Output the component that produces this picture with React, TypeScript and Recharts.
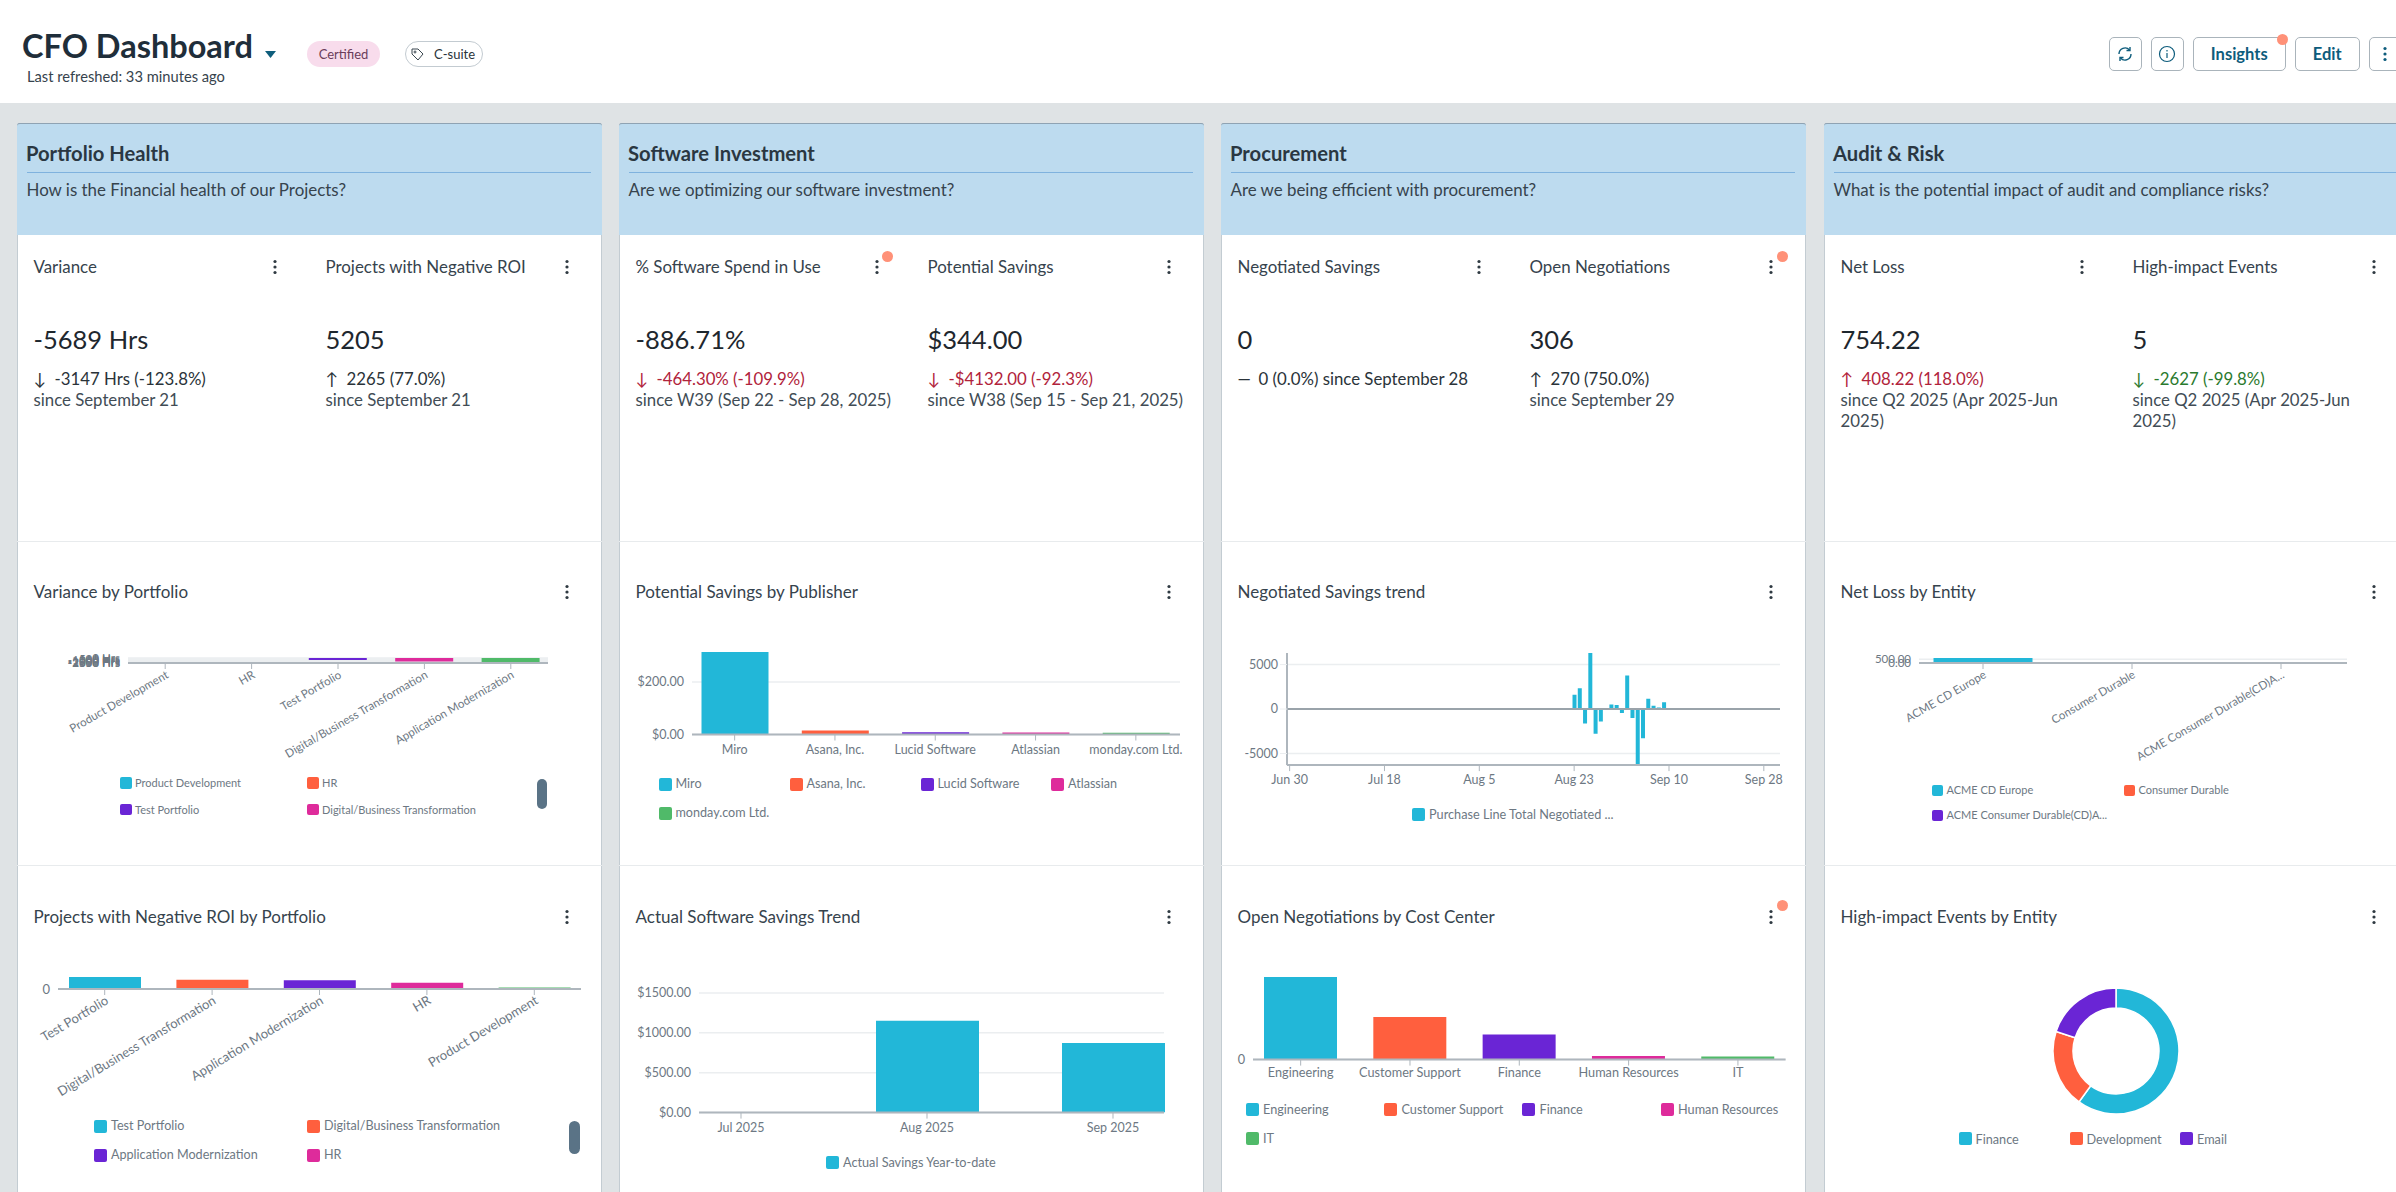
import { BarChart, Bar, Cell, XAxis, YAxis, CartesianGrid, ReferenceLine, PieChart, Pie } from 'recharts';
import type { CSSProperties, ReactNode } from 'react';

const FONT = 'Lato, "Noto Sans", sans-serif';
const PALETTE = ['#22b7d8', '#ff5f3e', '#6a25d5', '#de2b9b', '#50ba69'];
const TICK = '#6d7883';
const AXIS = '#aeb6bd';
const GRID = '#ebeef0';

const sectionTitles = ['Portfolio Health', 'Software Investment', 'Procurement', 'Audit & Risk'];
const sectionQuestions = [
  'How is the Financial health of our Projects?',
  'Are we optimizing our software investment?',
  'Are we being efficient with procurement?',
  'What is the potential impact of audit and compliance risks?',
];
const cardLefts = [17, 619, 1221, 1824];

const kpiNames = [
  ['Variance', 'Projects with Negative ROI'],
  ['% Software Spend in Use', 'Potential Savings'],
  ['Negotiated Savings', 'Open Negotiations'],
  ['Net Loss', 'High-impact Events'],
];
const kpiValues = [
  ['-5689 Hrs', '5205'],
  ['-886.71%', '$344.00'],
  ['0', '306'],
  ['754.22', '5'],
];
const kpiArrows = [
  ['↓', '↑'],
  ['↓', '↓'],
  ['—', '↑'],
  ['↑', '↓'],
];
const kpiDeltas = [
  ['-3147 Hrs (-123.8%)', '2265 (77.0%)'],
  ['-464.30% (-109.9%)', '-$4132.00 (-92.3%)'],
  ['0 (0.0%) since September 28', '270 (750.0%)'],
  ['408.22 (118.0%)', '-2627 (-99.8%)'],
];
const kpiDeltaColors = [
  ['#2a3339', '#2a3339'],
  ['#b1233b', '#b1233b'],
  ['#2a3339', '#2a3339'],
  ['#b1233b', '#2b7a2e'],
];
const kpiSince = [
  [['since September 21'], ['since September 21']],
  [['since W39 (Sep 22 - Sep 28, 2025)'], ['since W38 (Sep 15 - Sep 21, 2025)']],
  [[], ['since September 29']],
  [['since Q2 2025 (Apr 2025-Jun', '2025)'], ['since Q2 2025 (Apr 2025-Jun', '2025)']],
];

const chartTitlesTop = ['Variance by Portfolio', 'Potential Savings by Publisher', 'Negotiated Savings trend', 'Net Loss by Entity'];
const chartTitlesBottom = ['Projects with Negative ROI by Portfolio', 'Actual Software Savings Trend', 'Open Negotiations by Cost Center', 'High-impact Events by Entity'];

const varianceNames = ['Product Development', 'HR', 'Test Portfolio', 'Digital/Business Transformation', 'Application Modernization'];
const varianceValues = [-41, -60, -1030, -1900, -2658];
const varianceTicks = [-2658, -2500, -2000, -1500, -1000, -500, 0];

const roiNames = ['Test Portfolio', 'Digital/Business Transformation', 'Application Modernization', 'HR', 'Product Development'];
const roiValues = [1670, 1290, 1230, 880, 220];

const publisherNames = ['Miro', 'Asana, Inc.', 'Lucid Software', 'Atlassian', 'monday.com Ltd.'];
const publisherValues = [314, 15, 9, 8, 7];

const savingsMonths = ['Jul 2025', 'Aug 2025', 'Sep 2025'];
const savingsValues = [0, 1153, 873];

const trendDays = [
  'Jun 30', 'Jul 1', 'Jul 2', 'Jul 3', 'Jul 4', 'Jul 5', 'Jul 6', 'Jul 7', 'Jul 8', 'Jul 9', 'Jul 10', 'Jul 11', 'Jul 12', 'Jul 13', 'Jul 14', 'Jul 15', 'Jul 16', 'Jul 17',
  'Jul 18', 'Jul 19', 'Jul 20', 'Jul 21', 'Jul 22', 'Jul 23', 'Jul 24', 'Jul 25', 'Jul 26', 'Jul 27', 'Jul 28', 'Jul 29', 'Jul 30', 'Jul 31', 'Aug 1', 'Aug 2', 'Aug 3', 'Aug 4',
  'Aug 5', 'Aug 6', 'Aug 7', 'Aug 8', 'Aug 9', 'Aug 10', 'Aug 11', 'Aug 12', 'Aug 13', 'Aug 14', 'Aug 15', 'Aug 16', 'Aug 17', 'Aug 18', 'Aug 19', 'Aug 20', 'Aug 21', 'Aug 22',
  'Aug 23', 'Aug 24', 'Aug 25', 'Aug 26', 'Aug 27', 'Aug 28', 'Aug 29', 'Aug 30', 'Aug 31', 'Sep 1', 'Sep 2', 'Sep 3', 'Sep 4', 'Sep 5', 'Sep 6', 'Sep 7', 'Sep 8', 'Sep 9',
  'Sep 10', 'Sep 11', 'Sep 12', 'Sep 13', 'Sep 14', 'Sep 15', 'Sep 16', 'Sep 17', 'Sep 18', 'Sep 19', 'Sep 20', 'Sep 21', 'Sep 22', 'Sep 23', 'Sep 24', 'Sep 25', 'Sep 26', 'Sep 27',
  'Sep 28', 'Sep 29', 'Sep 30',
];
const trendValues = [
  0, 0, 0, 0, 0, 0, 0, 0, 0, 0, 0, 0, 0, 0, 0, 0, 0, 0,
  0, 0, 0, 0, 0, 0, 0, 0, 0, 0, 0, 0, 0, 0, 0, 0, 0, 0,
  0, 0, 0, 0, 0, 0, 0, 0, 0, 0, 0, 0, 0, 0, 0, 0, 0, 0,
  1620, 2340, -1620, 6300, -2790, -1400, 100, 500, 450, -450, 3780, -1000, -6300, -3280, 1170, 360, 180, 770,
  0, 0, 0, 0, 0, 0, 0, 0, 0, 0, 0, 0, 0, 0, 0, 0, 0, 0,
  0, 0, 0,
];

const costCenterNames = ['Engineering', 'Customer Support', 'Finance', 'Human Resources', 'IT'];
const costCenterValues = [161, 83, 49, 7, 6];

const entityNames = ['ACME CD Europe', 'Consumer Durable', 'ACME Consumer Durable(CD)A...'];
const entityValues = [650, 104, 0.22];

const eventNames = ['Finance', 'Development', 'Email'];
const eventValues = [3, 1, 1];

function Txt({ x, y, size, color = '#2a3339', weight = 400, children, style }: { x: number; y: number; size: number; color?: string; weight?: number; children: ReactNode; style?: CSSProperties }) {
  return (
    <div style={{ position: 'absolute', left: x, top: y - 15, height: 30, lineHeight: '30px', fontSize: size, color, fontWeight: weight, whiteSpace: 'pre', ...style }}>
      {children}
    </div>
  );
}

function Box({ x, y, w, h, style }: { x: number; y: number; w: number; h: number; style?: CSSProperties }) {
  return <div style={{ position: 'absolute', left: x, top: y, width: w, height: h, boxSizing: 'border-box', ...style }} />;
}

function Kebab({ x, y, color = '#2f3a42' }: { x: number; y: number; color?: string }) {
  return (
    <svg style={{ position: 'absolute', left: x - 3, top: y - 8 }} width={6} height={16}>
      <circle cx={3} cy={2.5} r={1.6} fill={color} />
      <circle cx={3} cy={8} r={1.6} fill={color} />
      <circle cx={3} cy={13.5} r={1.6} fill={color} />
    </svg>
  );
}

function Dot({ x, y }: { x: number; y: number }) {
  return <Box x={x - 5.5} y={y - 5.5} w={11} h={11} style={{ background: '#ff9178', borderRadius: '50%' }} />;
}

function SwatchLegend({ names, xs, ys, gap, size, fontSize }: { names: string[]; xs: number[]; ys: number[]; gap: number; size: number; fontSize: number }) {
  return (
    <>
      {names.slice(0, xs.length * ys.length).map((name, i) => {
        const x = xs[i % xs.length];
        const y = ys[Math.floor(i / xs.length)];
        return (
          <div key={name}>
            <Box x={x} y={y - size / 2} w={size} h={size} style={{ background: PALETTE[i], borderRadius: 2 }} />
            <Txt x={x + gap} y={y} size={fontSize} color={TICK}>{name}</Txt>
          </div>
        );
      })}
    </>
  );
}

function ScrollPill({ x, y, w, h }: { x: number; y: number; w: number; h: number }) {
  return <Box x={x} y={y} w={w} h={h} style={{ background: '#5a7386', borderRadius: w / 2 }} />;
}

interface PlotProps {
  names: string[];
  values: number[];
  left: number;
  right: number;
  top: number;
  bottom: number;
  barSize: number;
  domain: [number, number];
  ticks: number[];
  fontSize: number;
  angle?: number;
  colors?: string[];
  interval?: number;
  tickFormat?: (v: number) => string;
  axisPadding?: { left: number; right: number };
  xTickDy?: number;
  yTickSize?: number;
  zeroLine?: boolean;
  yLine?: boolean;
}

function Plot({ names, values, left, right, top, bottom, barSize, domain, ticks, fontSize, angle = 0, colors = PALETTE, interval = 0, tickFormat, axisPadding, xTickDy = 0, yTickSize = 0, zeroLine, yLine }: PlotProps) {
  const data = names.map((name, i) => ({ name, value: values[i] }));
  const boxLeft = left - 130;
  const boxTop = top - 12;
  const boxRight = right + 30;
  const boxBottom = bottom + 120;
  return (
    <div style={{ position: 'absolute', left: boxLeft, top: boxTop }}>
      <BarChart
        width={boxRight - boxLeft}
        height={boxBottom - boxTop}
        data={data}
        margin={{ top: top - boxTop, right: boxRight - right, left: 0, bottom: 0 }}
        style={{ fontFamily: FONT }}
      >
        <CartesianGrid vertical={false} stroke={GRID} strokeWidth={1.5} syncWithTicks />
        <XAxis
          dataKey="name"
          height={boxBottom - bottom}
          interval={interval}
          angle={angle}
          textAnchor={angle ? 'end' : 'middle'}
          padding={axisPadding}
          dy={xTickDy}
          tick={{ fill: TICK, fontSize }}
          tickLine={{ stroke: AXIS }}
          tickSize={6}
          axisLine={{ stroke: AXIS, strokeWidth: 2 }}
        />
        <YAxis
          width={left - boxLeft}
          domain={domain}
          ticks={ticks}
          interval={0}
          allowDataOverflow
          tickFormatter={tickFormat}
          tick={{ fill: TICK, fontSize }}
          tickLine={yTickSize ? { stroke: GRID } : false}
          tickSize={yTickSize || 6}
          axisLine={yLine ? { stroke: AXIS, strokeWidth: 2 } : false}
        />
        {zeroLine && <ReferenceLine y={0} stroke="#9aa3aa" strokeWidth={2} />}
        <Bar dataKey="value" barSize={barSize} isAnimationActive={false}>
          {data.map((d, i) => (
            <Cell key={d.name} fill={colors[i % colors.length]} />
          ))}
        </Bar>
      </BarChart>
    </div>
  );
}

function Charts() {
  const money = (v: number) => `$${v.toFixed(2)}`;
  return (
    <>
      <Plot names={varianceNames} values={varianceValues} left={128} right={548} top={658} bottom={663} barSize={58} domain={[-2658, 0]} ticks={varianceTicks} fontSize={11.6} angle={-30} xTickDy={-1} tickFormat={(v) => `${v} Hrs`} axisPadding={{ left: -6, right: -6 }} />
      <SwatchLegend names={varianceNames} xs={[120, 307]} ys={[783, 809.5]} gap={15} size={11.5} fontSize={11} />
      <ScrollPill x={537} y={779} w={10} h={30} />

      <Plot names={roiNames} values={roiValues} left={58} right={581} top={977} bottom={989} barSize={72} domain={[0, 1670]} ticks={[0]} fontSize={13} angle={-31} xTickDy={-2} axisPadding={{ left: -7, right: -7 }} />
      <SwatchLegend names={roiNames} xs={[94, 307]} ys={[1126, 1155]} gap={17} size={13} fontSize={12.6} />
      <ScrollPill x={568.5} y={1121} w={11.5} h={33} />

      <Plot names={publisherNames} values={publisherValues} left={691.5} right={1179.5} top={652} bottom={734.5} barSize={67} domain={[0, 314]} ticks={[0, 200]} tickFormat={money} fontSize={12.5} axisPadding={{ left: -7.5, right: -6 }} xTickDy={2.5} />
      <SwatchLegend names={publisherNames} xs={[658.5, 789.5, 920.5, 1051]} ys={[784, 813]} gap={17} size={13} fontSize={12.6} />

      <Plot names={savingsMonths} values={savingsValues} left={699} right={1164} top={993} bottom={1112.6} barSize={103} domain={[0, 1500]} ticks={[0, 500, 1000, 1500]} tickFormat={money} fontSize={12.5} colors={[PALETTE[0]]} axisPadding={{ left: -51, right: -42 }} xTickDy={2.5} />
      <SwatchLegend names={['Actual Savings Year-to-date']} xs={[826]} ys={[1162]} gap={17} size={13} fontSize={12.7} />

      <Plot names={trendDays} values={trendValues} left={1287} right={1780} top={652.7} bottom={764.8} barSize={4} domain={[-6300, 6300]} ticks={[-5000, 0, 5000]} colors={[PALETTE[0]]} interval={17} fontSize={12.5} axisPadding={{ left: 0, right: 3 }} xTickDy={2.5} yTickSize={7} zeroLine yLine />
      <SwatchLegend names={['Purchase Line Total Negotiated ...']} xs={[1412]} ys={[814]} gap={17} size={13} fontSize={12.7} />

      <Plot names={costCenterNames} values={costCenterValues} left={1253} right={1785.6} top={976.8} bottom={1059.4} barSize={73} domain={[0, 161]} ticks={[0]} fontSize={12.7} axisPadding={{ left: -7, right: -7 }} />
      <SwatchLegend names={costCenterNames} xs={[1245.5, 1384, 1522, 1660.5]} ys={[1109, 1138]} gap={17.5} size={13} fontSize={12.7} />

      <Plot names={entityNames} values={entityValues} left={1919} right={2347} top={658} bottom={663} barSize={99} domain={[0, 650]} ticks={[0, 500]} tickFormat={(v) => v.toFixed(2)} fontSize={11.5} angle={-30} xTickDy={-1} axisPadding={{ left: -10.5, right: -8.5 }} />
      <SwatchLegend names={entityNames} xs={[1931.5, 2123.5]} ys={[790, 815]} gap={15} size={11} fontSize={11} />

      <div style={{ position: 'absolute', left: 2015.7, top: 951 }}>
        <PieChart width={200} height={200} margin={{ top: 0, right: 0, bottom: 0, left: 0 }}>
          <Pie data={eventNames.map((name, i) => ({ name, value: eventValues[i] }))} dataKey="value" cx={100} cy={100} innerRadius={43} outerRadius={63} startAngle={90} endAngle={-270} stroke="#fff" strokeWidth={1.5} isAnimationActive={false}>
            {eventNames.map((name, i) => (
              <Cell key={name} fill={PALETTE[i]} />
            ))}
          </Pie>
        </PieChart>
      </div>
      <SwatchLegend names={eventNames} xs={[1958.5, 2069.5, 2180]} ys={[1138.5]} gap={17} size={13} fontSize={12.7} />
    </>
  );
}

function Card({ index }: { index: number }) {
  const x = cardLefts[index];
  return (
    <>
      <Box x={x} y={123} w={585} h={1080} style={{ background: '#fff', border: '1px solid #c3ccd2', borderTop: '1px solid #8fa3b3', borderRadius: '3px 3px 0 0' }} />
      <Box x={x} y={123} w={585} h={112} style={{ background: '#bddbef', borderTop: '1px solid #8fa3b3', borderRadius: '3px 3px 0 0' }} />
      <Box x={x + 10} y={172} w={564} h={1} style={{ background: '#7fb2de' }} />
      <Box x={x} y={541} w={585} h={1} style={{ background: '#e8ebed' }} />
      <Box x={x} y={865} w={585} h={1} style={{ background: '#e8ebed' }} />
      <Txt x={x + 9} y={153} size={20.2} weight={700} color="#2a3742">{sectionTitles[index]}</Txt>
      <Txt x={x + 9.5} y={189.5} size={16.9} color="#36434d">{sectionQuestions[index]}</Txt>
      {[0, 1].map((col) => {
        const cx = x + 16.5 + col * 292;
        return (
          <div key={col}>
            <Txt x={cx} y={267} size={16.9} color="#36434d">{kpiNames[index][col]}</Txt>
            <Kebab x={cx + 241.5} y={267} />
            <Txt x={cx} y={339} size={25.5} color="#1e272e">{kpiValues[index][col]}</Txt>
            <Txt x={cx} y={379} size={16.8} color={kpiDeltaColors[index][col]}>{kpiArrows[index][col]}</Txt>
            <Txt x={cx + 21} y={379} size={16.8} color={kpiDeltaColors[index][col]}>{kpiDeltas[index][col]}</Txt>
            {kpiSince[index][col].map((line, i) => (
              <Txt key={line} x={cx} y={400 + i * 21} size={16.8} color="#414c55">{line}</Txt>
            ))}
          </div>
        );
      })}
      <Txt x={x + 16.5} y={591.5} size={17} color="#36434d">{chartTitlesTop[index]}</Txt>
      <Kebab x={x + 550} y={591.5} />
      <Txt x={x + 16.5} y={917} size={17} color="#36434d">{chartTitlesBottom[index]}</Txt>
      <Kebab x={x + 550} y={917} />
    </>
  );
}

function HeaderButton({ x, w, label }: { x: number; w: number; label?: string }) {
  return (
    <div style={{ position: 'absolute', left: x, top: 37, width: w, height: 34, boxSizing: 'border-box', border: '1px solid #aab4bb', borderRadius: 5, background: '#fff', textAlign: 'center', lineHeight: '32px', fontSize: 16.5, fontWeight: 700, color: '#0d5c7c' }}>
      {label}
    </div>
  );
}

function Header() {
  return (
    <>
      <Box x={0} y={0} w={2396} h={103} style={{ background: '#fff' }} />
      <Txt x={22} y={46} size={32.5} weight={700} color="#1f2e3a">CFO Dashboard</Txt>
      <svg style={{ position: 'absolute', left: 265, top: 51 }} width={12} height={8}>
        <polygon points="0,0 11,0 5.5,7" fill="#0f5e7c" />
      </svg>
      <Txt x={27} y={75.5} size={14.7} color="#36434d">Last refreshed: 33 minutes ago</Txt>
      <div style={{ position: 'absolute', left: 307, top: 41, width: 73, height: 26, borderRadius: 13, background: '#f8dcec', textAlign: 'center', lineHeight: '26px', fontSize: 13, color: '#6b3d5a' }}>Certified</div>
      <div style={{ position: 'absolute', left: 405, top: 41, width: 78, height: 26, boxSizing: 'border-box', borderRadius: 13, border: '1px solid #c3cbd1', background: '#fff', lineHeight: '24px', fontSize: 13, color: '#2a3339', paddingLeft: 28 }}>C-suite</div>
      <svg style={{ position: 'absolute', left: 410, top: 47 }} width={15} height={15} fill="none" stroke="#3b4750">
        <path d="M2 2 H8 L13 7 L8 13 L2 7 Z" />
        <circle cx={5} cy={5} r={1} />
      </svg>
      <HeaderButton x={2108.5} w={33.5} />
      <svg style={{ position: 'absolute', left: 2116, top: 45 }} width={18} height={18} fill="none" stroke="#0d5c7c" strokeWidth={1.4}>
        <path d="M3 9 A6 6 0 0 1 13.5 5 M15 9 A6 6 0 0 1 4.5 13" />
        <path d="M14 2 V5.5 H10.5 M4 16 V12.5 H7.5" />
      </svg>
      <HeaderButton x={2150.5} w={33.5} />
      <svg style={{ position: 'absolute', left: 2158, top: 45 }} width={18} height={18} fill="none" stroke="#0d5c7c" strokeWidth={1.2}>
        <circle cx={9} cy={9} r={7.5} />
        <path d="M9 8 V13 M9 5 V6.5" />
      </svg>
      <HeaderButton x={2193} w={92.5} label="Insights" />
      <HeaderButton x={2295} w={64.5} label="Edit" />
      <HeaderButton x={2368.5} w={50} />
      <Kebab x={2385} y={54} color="#0d5c7c" />
      <Dot x={2282.5} y={39} />
    </>
  );
}

export default function App() {
  return (
    <div style={{ position: 'fixed', left: 0, top: 0, width: 2396, height: 1192, overflow: 'hidden', background: '#dfe3e5', fontFamily: FONT }}>
      <Header />
      {cardLefts.map((_, i) => (
        <Card key={i} index={i} />
      ))}
      <Charts />
      <Dot x={887} y={256} />
      <Dot x={1782} y={256} />
      <Dot x={1782} y={905.5} />
    </div>
  );
}
